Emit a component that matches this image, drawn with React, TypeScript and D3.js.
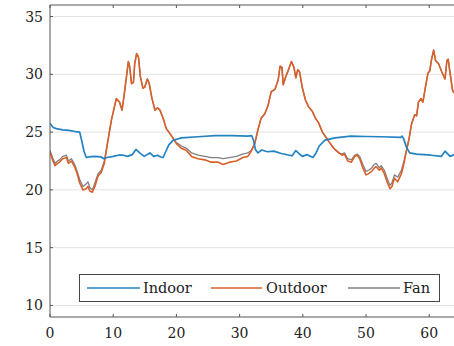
import React, { useRef, useEffect } from "react";
import * as d3 from "d3";

type Pt = [number, number];

const X_TICKS = [0, 10, 20, 30, 40, 50, 60];
const Y_TICKS = [10, 15, 20, 25, 30, 35];
const SERIES_NAMES = ["Indoor", "Outdoor", "Fan"];
const SERIES_COLORS = ["#2383c2", "#d9602a", "#808080"];

// [hour, temperature]
const indoor: Pt[] = [
  [0, 25.75], [0.5, 25.4], [1, 25.3], [2, 25.2], [3, 25.15], [4, 25.05], [4.7, 25.0],
  [5.0, 24.3], [5.4, 23.3], [5.75, 22.8], [6.2, 22.85], [7, 22.9], [8.1, 22.85], [8.5, 22.7],
  [9, 22.8], [10, 22.9], [10.8, 23.0], [11.6, 23.0], [12.3, 22.9], [13, 23.05], [13.6, 23.5],
  [14.2, 23.2], [14.9, 22.9], [15.8, 23.2], [16.4, 22.9], [17, 23.0], [17.5, 22.85], [17.9, 22.8],
  [18.3, 23.3], [18.8, 23.9], [19.5, 24.3], [20.8, 24.5], [23.4, 24.6], [26.1, 24.7], [28.8, 24.7],
  [31.3, 24.65], [31.9, 24.7], [32.2, 24.3], [32.5, 23.5], [32.9, 23.2], [33.5, 23.45], [34.4, 23.3],
  [35.4, 23.35], [36.6, 23.15], [37.9, 23.0], [38.3, 22.95], [38.9, 23.4], [39.5, 23.1], [39.9, 22.9],
  [40.7, 23.05], [41.6, 22.8], [42.1, 23.2], [42.6, 23.8], [43.5, 24.3], [45.1, 24.5], [47.6, 24.65],
  [50, 24.62], [52.4, 24.6], [55.5, 24.55], [55.7, 24.65], [55.9, 24.5], [56.4, 23.7], [56.9, 23.2],
  [58, 23.1], [60.3, 23.0], [61.9, 22.9], [62.5, 23.35], [63.3, 22.9], [64.2, 23.1],
];

const outdoor: Pt[] = [
  [0, 23.3], [0.4, 22.6], [0.8, 22.1], [1.2, 22.3], [1.5, 22.4], [2.0, 22.7], [2.6, 22.8],
  [2.9, 22.3], [3.4, 22.5], [3.9, 22.0], [4.3, 21.4], [4.7, 20.6], [5.2, 20.0], [5.7, 20.1],
  [6.0, 20.3], [6.3, 19.9], [6.7, 19.8], [7.1, 20.3], [7.6, 21.2], [8.1, 21.5], [8.6, 22.3],
  [8.9, 23.4], [9.3, 24.7], [9.7, 26.0], [10.2, 27.2], [10.5, 27.9], [11.0, 27.6], [11.4, 26.9],
  [11.8, 28.5], [12.1, 29.8], [12.4, 31.1], [12.6, 30.7], [12.9, 29.2], [13.2, 29.3], [13.4, 30.9],
  [13.7, 31.8], [14.0, 31.5], [14.3, 29.8], [14.7, 28.8], [15.0, 28.9], [15.4, 29.6], [15.7, 29.2],
  [16.1, 28.0], [16.6, 26.9], [17.0, 27.1], [17.4, 26.9], [17.9, 26.2], [18.4, 25.3], [19.2, 24.7],
  [20.0, 24.0], [20.8, 23.6], [21.6, 23.4], [22.4, 22.9], [23.4, 22.7], [24.5, 22.6], [25.5, 22.4],
  [26.6, 22.4], [27.4, 22.2], [28.4, 22.4], [29.5, 22.5], [30.5, 22.8], [31.3, 22.9], [31.8, 23.3],
  [32.4, 24.0], [32.9, 25.2], [33.4, 26.2], [34.0, 26.6], [34.5, 27.3], [35.0, 28.5], [35.6, 28.7],
  [36.1, 29.5], [36.4, 30.7], [36.7, 30.6], [36.9, 29.1], [37.3, 29.8], [37.6, 30.2], [38.0, 30.8],
  [38.2, 31.1], [38.6, 30.6], [38.9, 29.7], [39.2, 30.4], [39.5, 30.2], [39.9, 28.9], [40.4, 27.8],
  [40.9, 27.2], [41.5, 26.8], [42.0, 26.2], [42.5, 25.8], [43.1, 25.0], [43.6, 24.6], [44.1, 24.2],
  [44.9, 23.6], [45.7, 23.2], [46.2, 23.0], [46.6, 23.1], [47.1, 22.5], [47.7, 22.4], [48.2, 22.9],
  [48.6, 23.0], [49.0, 22.7], [49.5, 21.9], [50.0, 21.3], [50.4, 21.4], [50.9, 21.6], [51.3, 21.9],
  [51.6, 22.0], [52.1, 21.7], [52.4, 21.9], [52.9, 21.4], [53.4, 20.6], [53.8, 20.1], [54.1, 20.3],
  [54.5, 21.0], [55.0, 20.7], [55.6, 21.4], [56.0, 22.3], [56.4, 23.4], [56.8, 24.4], [57.2, 25.7],
  [57.7, 26.5], [58.0, 26.4], [58.3, 27.6], [58.7, 27.9], [59.0, 27.6], [59.4, 28.9], [59.8, 30.1],
  [60.1, 30.3], [60.3, 31.1], [60.7, 32.1], [61.0, 31.2], [61.5, 30.9], [62.0, 30.2], [62.5, 29.6],
  [62.8, 31.2], [63.0, 31.3], [63.3, 30.1], [63.7, 28.6], [64.2, 28.2],
];

const fan: Pt[] = [
  [0, 23.4], [0.4, 22.8], [0.8, 22.3], [1.2, 22.5], [1.5, 22.6], [2.0, 22.9], [2.6, 23.0],
  [2.9, 22.5], [3.4, 22.7], [3.9, 22.2], [4.3, 21.6], [4.7, 20.9], [5.2, 20.3], [5.7, 20.5],
  [6.0, 20.7], [6.3, 20.2], [6.7, 20.0], [7.1, 20.6], [7.6, 21.4], [8.1, 21.7], [8.6, 22.5],
  [8.9, 23.4], [9.3, 24.7], [9.7, 26.0], [10.2, 27.2], [10.5, 27.9], [11.0, 27.6], [11.4, 26.9],
  [11.8, 28.5], [12.1, 29.8], [12.4, 31.1], [12.6, 30.7], [12.9, 29.2], [13.2, 29.3], [13.4, 30.9],
  [13.7, 31.8], [14.0, 31.5], [14.3, 29.8], [14.7, 28.8], [15.0, 28.9], [15.4, 29.6], [15.7, 29.2],
  [16.1, 28.0], [16.6, 26.9], [17.0, 27.1], [17.4, 26.9], [17.9, 26.2], [18.4, 25.3], [19.2, 24.7],
  [20.0, 24.1], [20.8, 23.8], [21.6, 23.6], [22.4, 23.2], [23.4, 23.0], [24.5, 22.9], [25.5, 22.8],
  [26.6, 22.8], [27.4, 22.7], [28.4, 22.8], [29.5, 22.9], [30.5, 23.1], [31.3, 23.2], [31.8, 23.4],
  [32.4, 24.0], [32.9, 25.2], [33.4, 26.2], [34.0, 26.6], [34.5, 27.3], [35.0, 28.5], [35.6, 28.7],
  [36.1, 29.5], [36.4, 30.7], [36.7, 30.6], [36.9, 29.1], [37.3, 29.8], [37.6, 30.2], [38.0, 30.8],
  [38.2, 31.1], [38.6, 30.6], [38.9, 29.7], [39.2, 30.4], [39.5, 30.2], [39.9, 28.9], [40.4, 27.8],
  [40.9, 27.2], [41.5, 26.8], [42.0, 26.2], [42.5, 25.8], [43.1, 25.0], [43.6, 24.6], [44.1, 24.2],
  [44.9, 23.6], [45.7, 23.2], [46.2, 23.1], [46.6, 23.2], [47.1, 22.7], [47.7, 22.6], [48.2, 23.0],
  [48.6, 23.1], [49.0, 22.9], [49.5, 22.2], [50.0, 21.6], [50.4, 21.7], [50.9, 21.9], [51.3, 22.2],
  [51.6, 22.3], [52.1, 21.9], [52.4, 22.1], [52.9, 21.7], [53.4, 20.9], [53.8, 20.4], [54.1, 20.6],
  [54.5, 21.3], [55.0, 21.1], [55.6, 21.7], [56.0, 22.5], [56.4, 23.4], [56.8, 24.4], [57.2, 25.7],
  [57.7, 26.5], [58.0, 26.4], [58.3, 27.6], [58.7, 27.9], [59.0, 27.6], [59.4, 28.9], [59.8, 30.1],
  [60.1, 30.3], [60.3, 31.1], [60.7, 32.1], [61.0, 31.2], [61.5, 30.9], [62.0, 30.2], [62.5, 29.6],
  [62.8, 31.2], [63.0, 31.3], [63.3, 30.1], [63.7, 28.6], [64.2, 28.2],
];

const FONT = '"DejaVu Serif", serif';

export default function App() {
  const svgRef = useRef<SVGSVGElement | null>(null);

  useEffect(() => {
    document.body.style.margin = "0";
    const width = 454;
    const height = 346;
    const plot = { left: 50, top: 5, right: 454.5, bottom: 317 };

    const svg = d3.select(svgRef.current)
      .attr("width", width)
      .attr("height", height)
      .style("font-family", FONT);
    svg.selectAll("*").remove();

    const x = d3.scaleLinear().domain([0, 64]).range([plot.left, plot.right]);
    const y = d3.scaleLinear().domain([9, 36]).range([plot.bottom, plot.top]);

    svg.append("defs").append("clipPath").attr("id", "plot-clip")
      .append("rect")
      .attr("x", plot.left).attr("y", plot.top)
      .attr("width", plot.right - plot.left).attr("height", plot.bottom - plot.top);

    // grid lines
    svg.append("g")
      .selectAll("line")
      .data(Y_TICKS)
      .enter()
      .append("line")
      .attr("x1", plot.left).attr("x2", width)
      .attr("y1", (d) => y(d)).attr("y2", (d) => y(d))
      .attr("stroke", "#e3e3e3")
      .attr("stroke-width", 1);

    // lines (fan underneath, indoor on top)
    const line = d3.line<Pt>().x((d) => x(d[0])).y((d) => y(d[1]));
    const lines = svg.append("g").attr("clip-path", "url(#plot-clip)");
    const order = [
      { data: fan, idx: 2, w: 1.3 },
      { data: outdoor, idx: 1, w: 1.6 },
      { data: indoor, idx: 0, w: 1.7 },
    ];
    order.forEach((s) => {
      lines.append("path")
        .datum(s.data)
        .attr("d", line)
        .attr("fill", "none")
        .attr("stroke", SERIES_COLORS[s.idx])
        .attr("stroke-width", s.w)
        .attr("stroke-linejoin", "round");
    });

    // axes frame
    const axisColor = "#555";
    svg.append("line").attr("x1", plot.left).attr("x2", width)
      .attr("y1", plot.top).attr("y2", plot.top).attr("stroke", axisColor);
    svg.append("line").attr("x1", plot.left).attr("x2", width)
      .attr("y1", plot.bottom).attr("y2", plot.bottom).attr("stroke", axisColor);
    svg.append("line").attr("x1", plot.left).attr("x2", plot.left)
      .attr("y1", plot.top).attr("y2", plot.bottom).attr("stroke", axisColor);

    // x ticks (inward, top and bottom)
    const xt = svg.append("g");
    X_TICKS.forEach((t) => {
      xt.append("line").attr("x1", x(t)).attr("x2", x(t))
        .attr("y1", plot.bottom).attr("y2", plot.bottom - 3).attr("stroke", axisColor);
      xt.append("line").attr("x1", x(t)).attr("x2", x(t))
        .attr("y1", plot.top).attr("y2", plot.top + 3).attr("stroke", axisColor);
      xt.append("text").attr("x", x(t)).attr("y", 338)
        .attr("text-anchor", "middle")
        .style("font-size", "14px").attr("fill", "#222")
        .text(t);
    });

    // y ticks
    const yt = svg.append("g");
    Y_TICKS.forEach((t) => {
      yt.append("line").attr("x1", plot.left).attr("x2", plot.left + 3)
        .attr("y1", y(t)).attr("y2", y(t)).attr("stroke", axisColor);
      yt.append("text").attr("x", 43).attr("y", y(t) + 5)
        .attr("text-anchor", "end")
        .style("font-size", "14px").attr("fill", "#222")
        .text(t);
    });

    // legend
    const lg = svg.append("g");
    lg.append("rect").attr("x", 79.5).attr("y", 274.5).attr("width", 360).attr("height", 27)
      .attr("fill", "#fff").attr("stroke", "#444");
    const entries = [
      { x1: 87, x2: 140, tx: 143 },
      { x1: 211, x2: 262, tx: 266 },
      { x1: 348, x2: 400, tx: 403 },
    ];
    entries.forEach((e, i) => {
      lg.append("line").attr("x1", e.x1).attr("x2", e.x2).attr("y1", 288).attr("y2", 288)
        .attr("stroke", SERIES_COLORS[i]).attr("stroke-width", 1.6);
      lg.append("text").attr("x", e.tx).attr("y", 293)
        .style("font-size", "14.5px").attr("fill", "#222")
        .text(SERIES_NAMES[i]);
    });
  }, []);

  return <svg ref={svgRef} style={{ display: "block" }}></svg>;
}
